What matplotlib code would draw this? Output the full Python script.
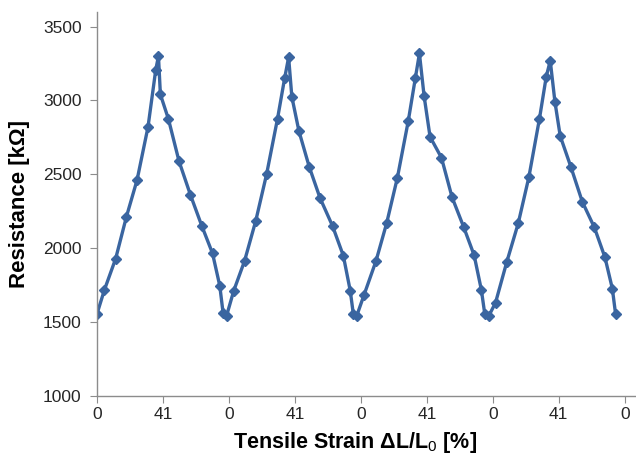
import matplotlib.pyplot as plt
import numpy as np

# strain axis is cumulative over 4 cycles (0 -> 41 -> 0 ...), each half-cycle = 41
strain = [0.0, 4.6, 11.6, 18.3, 24.9, 31.7, 36.5, 38.2, 39.4, 44.4, 51.0, 58.1,
          65.1, 71.8, 76.3, 78.4, 80.5, 85.0, 91.7, 98.7, 105.4, 112.2, 116.6,
          119.1, 121.1, 125.5, 131.9, 138.6, 146.4, 153.1, 157.4, 159.3, 161.4,
          165.9, 173.4, 180.0, 186.7, 193.5, 197.9, 200.4, 203.3, 207.0, 214.1,
          220.7, 227.8, 234.4, 238.9, 241.0, 243.5, 247.7, 254.7, 261.8, 268.4,
          275.0, 279.2, 281.7, 284.6, 287.9, 294.5, 301.6, 309.1, 315.7, 320.3,
          322.3]
resistance = [1555, 1717, 1929, 2213, 2461, 2820, 3206, 3300, 3041, 2874, 2588,
              2360, 2152, 1965, 1746, 1559, 1541, 1712, 1913, 2186, 2500, 2876,
              3149, 3292, 3025, 2793, 2551, 2340, 2150, 1949, 1712, 1555, 1541,
              1681, 1913, 2168, 2477, 2863, 3154, 3318, 3030, 2754, 2612, 2344,
              2146, 1952, 1717, 1555, 1541, 1631, 1907, 2168, 2480, 2876, 3160,
              3269, 2992, 2759, 2551, 2315, 2141, 1938, 1726, 1555]

tick_pos = [0, 41, 82, 123, 164, 205, 246, 287, 328]
tick_labels = ['0', '41', '0', '41', '0', '41', '0', '41', '0']

plt.rcParams['font.family'] = ['Liberation Sans', 'DejaVu Sans']
plt.rcParams['mathtext.fontset'] = 'custom'
plt.rcParams['mathtext.rm'] = 'Liberation Sans'
plt.rcParams['mathtext.default'] = 'rm'

fig = plt.figure(figsize=(6.36, 4.54), dpi=100)
ax = fig.add_axes([0.1525, 0.128, 0.8475, 0.846])

ax.plot(strain, resistance, color='#3A65A0', linewidth=2.4,
        marker='D', markersize=5.5, markerfacecolor='#3A65A0',
        markeredgecolor='#3A65A0')

ax.set_xlim(0, 335)
ax.set_ylim(1000, 3600)
ax.set_yticks(np.arange(1000, 3501, 500))
ax.set_xticks(tick_pos)
ax.set_xticklabels(tick_labels)

for side in ['top', 'right']:
    ax.spines[side].set_visible(False)
for side in ['left', 'bottom']:
    ax.spines[side].set_color('#8c8c8c')
    ax.spines[side].set_linewidth(1.0)

ax.tick_params(axis='both', direction='out', length=5, color='#8c8c8c',
               labelsize=12.5, labelcolor='#262626')
ax.tick_params(axis='y', pad=6)
ax.tick_params(axis='x', pad=3)

ax.set_ylabel('Resistance [kΩ]', fontsize=16, fontweight='bold')
ax.yaxis.set_label_coords(-0.125, 0.5)
ax.set_xlabel('Tensile Strain ΔL/L$_0$ [%]', fontsize=15.5,
              fontweight='bold')
ax.xaxis.set_label_coords(0.478, -0.09)

fig.savefig('out.png', dpi=100)
